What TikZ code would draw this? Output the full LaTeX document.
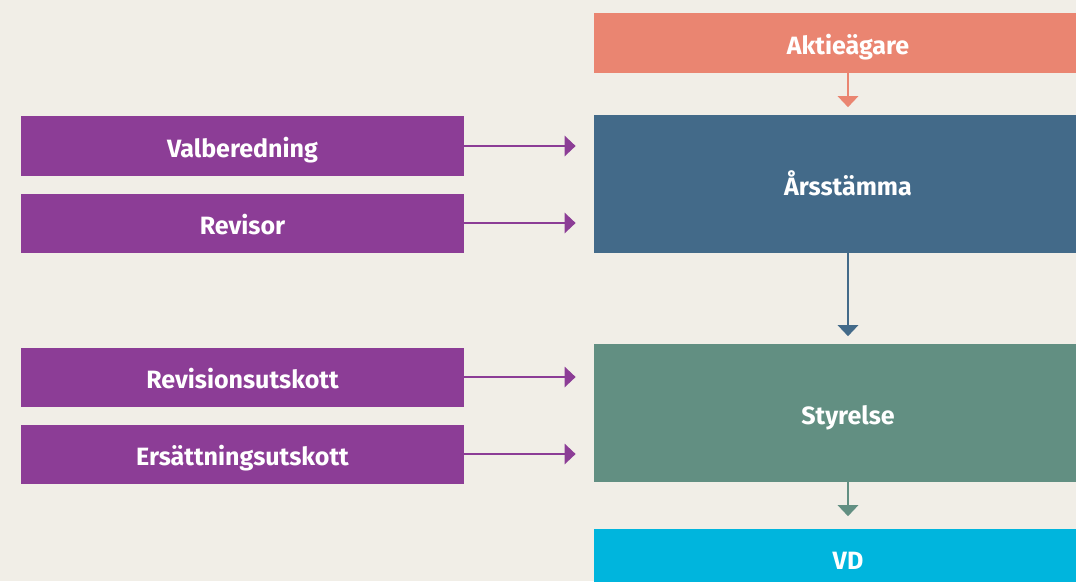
\documentclass[tikz,border=0pt]{standalone}
\usepackage{fontspec}
\setmainfont{Fira Sans}
\usepackage{tikz}
\usetikzlibrary{arrows.meta, positioning}

\definecolor{bgbeige}{HTML}{F1EEE7}
\definecolor{owner}{HTML}{EA8571}
\definecolor{meeting}{HTML}{436A89}
\definecolor{board}{HTML}{628F82}
\definecolor{ceo}{HTML}{00B5DD}
\definecolor{committee}{HTML}{8C3D96}

\begin{document}
\begin{tikzpicture}[x=0.025cm, y=-0.025cm,
    box/.style={fill=#1, text=white, inner sep=0pt, text height=0.55cm, text depth=0pt, font=\fontsize{17.8}{21}\selectfont\bfseries},
    mainbox/.style={box=#1, minimum width=12.7cm, minimum height=1.475cm},
    bigbox/.style={box=#1, minimum width=12.7cm, minimum height=3.425cm},
    sidebox/.style={box=committee, minimum width=11.075cm, minimum height=1.475cm},
    arr/.style 2 args={draw=#1, line width=2.1pt, -{Triangle[length=0.275cm, width=0.5cm]}, shorten >=#2}]
                % Background
                \useasboundingbox (0,0) rectangle (1076,581);
                \fill[bgbeige] (0,0) rectangle (1076,581);
                \clip (0,0) rectangle (1076,581);

                % Main chain
                \node[mainbox=owner] (akt) at (848,43) {Aktieägare};
                \node[bigbox=meeting] (ars) at (848,184) {Årsstämma};
                \node[bigbox=board] (sty) at (848,413) {Styrelse};
                \node[mainbox=ceo] (vd) at (848,558) {VD};

                % Committees and auditors
                \node[sidebox] (val) at (242.5,146) {Valberedning};
                \node[sidebox] (rev) at (242.5,223) {Revisor};
                \node[sidebox] (rut) at (242.5,377) {Revisionsutskott};
                \node[sidebox] (ers) at (242.5,454) {Ersättningsutskott};

                % Downward arrows
                \draw[arr={owner}{0.2cm}] (akt.south) -- (ars.north);
                \draw[arr={meeting}{0.2cm}] (ars.south) -- (sty.north);
                \draw[arr={board}{0.3cm}] (sty.south) -- (vd.north);

                % Side arrows
                \draw[arr={committee}{0.45cm}] (val.east) -- (val.east -| ars.west);
                \draw[arr={committee}{0.45cm}] (rev.east) -- (rev.east -| ars.west);
                \draw[arr={committee}{0.45cm}] (rut.east) -- (rut.east -| sty.west);
                \draw[arr={committee}{0.45cm}] (ers.east) -- (ers.east -| sty.west);
            \end{tikzpicture}
\end{document}
